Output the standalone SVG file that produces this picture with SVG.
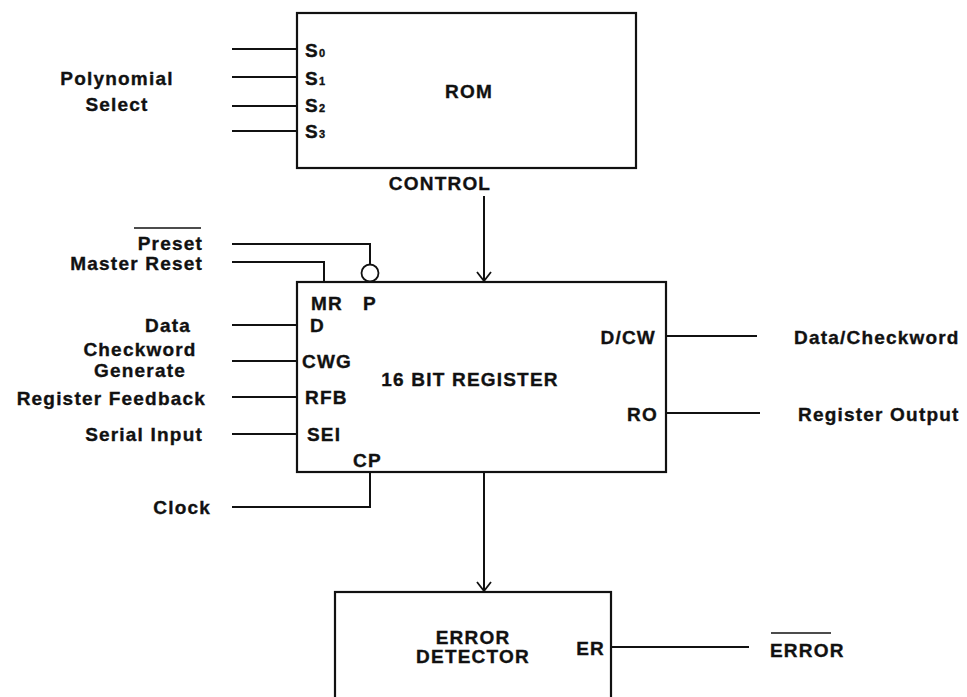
<svg xmlns="http://www.w3.org/2000/svg" width="967" height="697" viewBox="0 0 967 697">
<style>
text{font-family:"Liberation Sans",Arial,sans-serif;font-weight:bold;font-size:19px;letter-spacing:1.2px;fill:#111;stroke:#111;stroke-width:0.35}
.sub{font-size:11px;letter-spacing:0}
.box{fill:#fff;stroke:#111;stroke-width:2.2}
.w{fill:none;stroke:#111;stroke-width:2}
.e{text-anchor:end}
.m{text-anchor:middle}
</style>
<defs>
<marker id="arr" markerWidth="20" markerHeight="20" refX="10" refY="10" orient="auto" markerUnits="userSpaceOnUse">
<polyline points="1,3 10,10 1,17" fill="none" stroke="#111" stroke-width="1.8"/>
</marker>
</defs>
<rect width="967" height="697" fill="#fff"/>
<g id="rom">
<rect class="box" x="297" y="13" width="339" height="155"/>
<text x="469" y="98" class="m">ROM</text>
<text x="305" y="57">S<tspan class="sub">0</tspan></text>
<text x="305" y="85">S<tspan class="sub">1</tspan></text>
<text x="305" y="112">S<tspan class="sub">2</tspan></text>
<text x="305" y="138">S<tspan class="sub">3</tspan></text>
<text x="440" y="190" class="m">CONTROL</text>
</g>
<g id="polysel">
<text x="117" y="85" class="m">Polynomial</text>
<text x="117" y="111" class="m">Select</text>
</g>
<g id="register">
<rect class="box" x="297" y="282" width="369" height="190"/>
<text x="470" y="386" class="m">16 BIT REGISTER</text>
<text x="311" y="310">MR</text>
<text x="363" y="310">P</text>
<text x="310" y="332">D</text>
<text x="302" y="368">CWG</text>
<text x="305" y="404">RFB</text>
<text x="307" y="441">SEI</text>
<text x="353" y="467">CP</text>
<text x="656" y="344" class="e">D/CW</text>
<text x="658" y="421" class="e">RO</text>
</g>
<g id="labels-in">
<text x="203" y="250" class="e">Preset</text>
<line x1="134" y1="228" x2="201" y2="228" stroke="#111" stroke-width="1.5"/>
<text x="203" y="270" class="e">Master Reset</text>
<text x="191" y="332" class="e">Data</text>
<text x="140" y="356" class="m">Checkword</text>
<text x="140" y="377" class="m">Generate</text>
<text x="206" y="405" class="e">Register Feedback</text>
<text x="203" y="441" class="e">Serial Input</text>
<text x="211" y="514" class="e">Clock</text>
</g>
<g id="labels-out">
<text x="794" y="344">Data/Checkword</text>
<text x="798" y="421">Register Output</text>
<text x="770" y="657">ERROR</text>
<line x1="771" y1="633" x2="831" y2="633" stroke="#111" stroke-width="1.5"/>
</g>
<g id="error-detector">
<rect class="box" x="335" y="592" width="276" height="120"/>
<text x="473" y="644" class="m">ERROR</text>
<text x="473" y="663" class="m">DETECTOR</text>
<text x="605" y="655" class="e">ER</text>
</g>
<g id="connectors">
<line class="w" x1="232" y1="49" x2="297" y2="49"/>
<line class="w" x1="232" y1="77" x2="297" y2="77"/>
<line class="w" x1="232" y1="106" x2="297" y2="106"/>
<line class="w" x1="232" y1="131" x2="297" y2="131"/>
<line class="w" x1="484" y1="196" x2="484" y2="281" marker-end="url(#arr)"/>
<polyline class="w" points="232,244 370,244 370,264"/>
<circle cx="370" cy="273" r="8.5" fill="#fff" stroke="#111" stroke-width="1.8"/>
<polyline class="w" points="232,262 324,262 324,282"/>
<line class="w" x1="232" y1="325" x2="297" y2="325"/>
<line class="w" x1="232" y1="361" x2="297" y2="361"/>
<line class="w" x1="232" y1="397" x2="297" y2="397"/>
<line class="w" x1="232" y1="434" x2="297" y2="434"/>
<polyline class="w" points="232,507 370,507 370,472"/>
<line class="w" x1="666" y1="336" x2="757" y2="336"/>
<line class="w" x1="666" y1="413" x2="760" y2="413"/>
<line class="w" x1="484" y1="472" x2="484" y2="591" marker-end="url(#arr)"/>
<line class="w" x1="611" y1="647" x2="749" y2="647"/>
</g>
</svg>
